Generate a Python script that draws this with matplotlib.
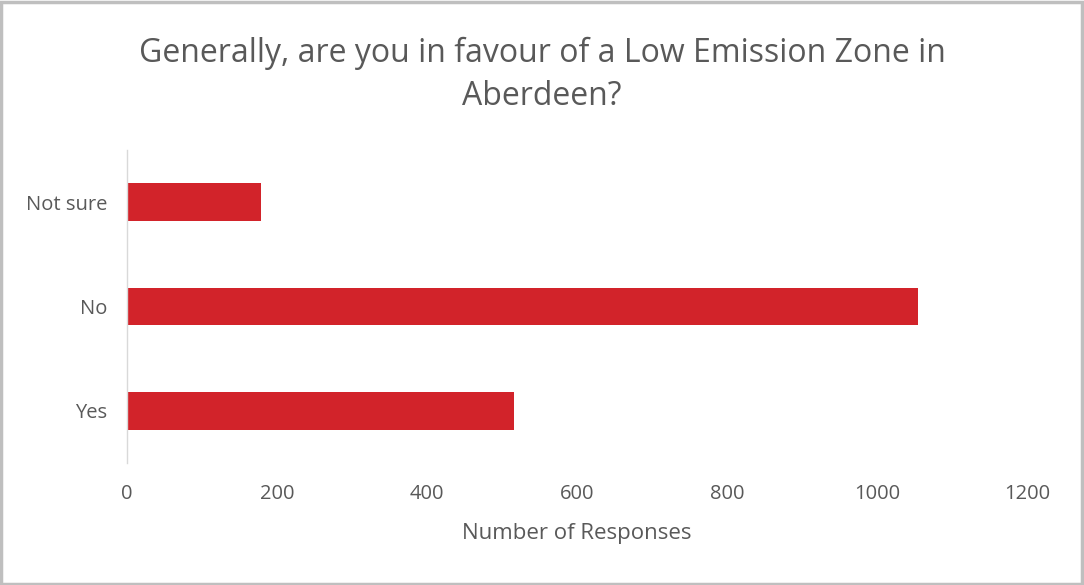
import matplotlib
matplotlib.use("Agg")
import matplotlib.pyplot as plt
from matplotlib.patches import Rectangle

categories = ["Yes", "No", "Not sure"]
responses = [516, 1055, 178]
x_ticks = [0, 200, 400, 600, 800, 1000, 1200]

title = "Generally, are you in favour of a Low Emission Zone in\nAberdeen?"
x_label = "Number of Responses"

plt.rcParams["font.family"] = ["Open Sans", "DejaVu Sans"]
text_color = "#595959"
bar_color = "#D2232A"

fig = plt.figure(figsize=(10.84, 5.85), dpi=100)
fig.patch.set_facecolor("white")
fig.add_artist(Rectangle((0.001, 0.002), 0.997, 0.995, transform=fig.transFigure,
                         fill=False, edgecolor="#BFBFBF", linewidth=2.5))

ax = fig.add_axes([0.1172, 0.2085, 0.8302, 0.5351])
ax.barh(range(len(categories)), responses, height=0.36, color=bar_color)
ax.set_xlim(0, 1200)
ax.set_ylim(-0.5, len(categories) - 0.5)
ax.set_xticks(x_ticks)
ax.set_xticklabels([str(t) for t in x_ticks])
ax.set_yticks(range(len(categories)))
ax.set_yticklabels(categories)
ax.tick_params(axis="both", length=0, colors=text_color, labelsize=14.5)
ax.tick_params(axis="x", pad=15)
ax.tick_params(axis="y", pad=14)
for side in ["top", "right", "bottom"]:
    ax.spines[side].set_visible(False)
ax.spines["left"].set_color("#D9D9D9")
ax.spines["left"].set_linewidth(1.0)

ax.set_xlabel(x_label, color=text_color, fontsize=16, labelpad=14)
fig.text(0.5, 0.872, title, ha="center", va="center", fontsize=23,
         color=text_color, linespacing=1.4)

fig.savefig("out.png", dpi=100)
